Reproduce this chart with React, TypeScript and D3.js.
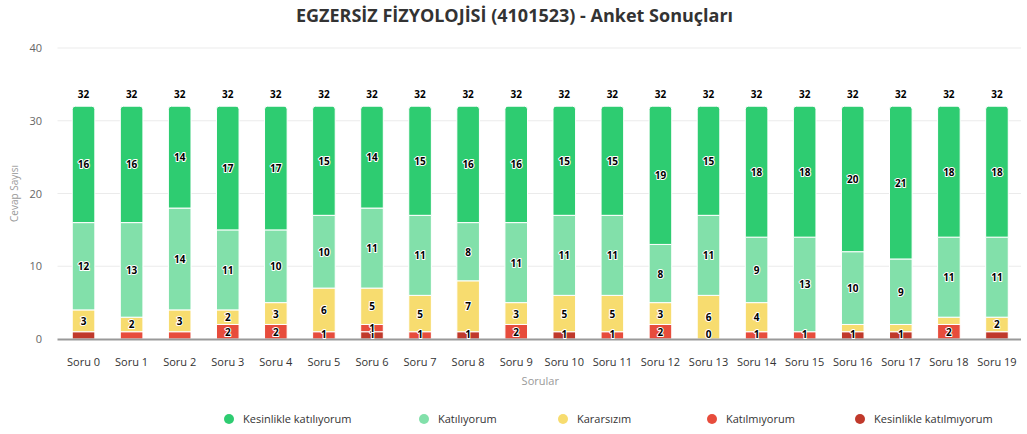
import React from "react";
import * as d3 from "d3";

const categories = ["Soru 0","Soru 1","Soru 2","Soru 3","Soru 4","Soru 5","Soru 6","Soru 7","Soru 8","Soru 9","Soru 10","Soru 11","Soru 12","Soru 13","Soru 14","Soru 15","Soru 16","Soru 17","Soru 18","Soru 19"];
const kesinlikleKatiliyorum = [16,16,14,17,17,15,14,15,16,16,15,15,19,15,18,18,20,21,18,18];
const katiliyorum = [12,13,14,11,10,10,11,11,8,11,11,11,8,11,9,13,10,9,11,11];
const kararsizim = [3,2,3,2,3,6,5,5,7,3,5,5,3,6,4,0,1,1,1,2];
const katilmiyorum = [0,1,1,2,2,1,1,1,0,2,0,1,2,0,1,1,0,0,2,0];
const kesinlikleKatilmiyorum = [1,0,0,0,0,0,1,0,1,0,1,0,0,0,0,0,1,1,0,1];
const yTicks = [0, 10, 20, 30, 40];
// labels hidden in the reference because of overlap: [seriesKey, categoryIndex]
const hiddenLabels: [string, number][] = [["kkm",0],["km",1],["km",2],["kkm",19],["kr",16],["kr",17],["kr",18]];
const zeroLabels: [string, number][] = [["km",13]];

const seriesDefs = [
  { key: "kkm", name: "Kesinlikle katılmıyorum", values: kesinlikleKatilmiyorum, color: "#c0392b" },
  { key: "km", name: "Katılmıyorum", values: katilmiyorum, color: "#e74c3c" },
  { key: "kr", name: "Kararsızım", values: kararsizim, color: "#f7dc6f" },
  { key: "k", name: "Katılıyorum", values: katiliyorum, color: "#82e0aa" },
  { key: "kk", name: "Kesinlikle katılıyorum", values: kesinlikleKatiliyorum, color: "#2ecc71" },
];
const legendOrder = ["kk", "k", "kr", "km", "kkm"];

const W = 1027, H = 434;
const font = "'Open Sans', 'Noto Sans', sans-serif";

export default function App() {
  const margin = { left: 59.5, right: 6, top: 48, bottom: 95 };
  const x = d3.scaleBand<string>().domain(categories).range([margin.left, W - margin.right]).paddingInner(0.53).paddingOuter(0.265);
  const y = d3.scaleLinear().domain([0, 40]).range([H - margin.bottom, margin.top]);
  const rows = categories.map((c, i) => {
    const r: any = { cat: c };
    seriesDefs.forEach(s => (r[s.key] = s.values[i]));
    return r;
  });
  const stack = d3.stack<any>().keys(seriesDefs.map(s => s.key));
  const layers = stack(rows);
  const bw = x.bandwidth();
  const isHidden = (k: string, i: number) => hiddenLabels.some(h => h[0] === k && h[1] === i);
  const isZeroShown = (k: string, i: number) => zeroLabels.some(h => h[0] === k && h[1] === i);
  const totals = categories.map((_, i) => d3.sum(seriesDefs, s => s.values[i]));
  const legendX: Record<string, number> = { kk: 229, k: 424, kr: 563, km: 712, kkm: 860 };

  const roundTop = (x0: number, y0: number, w: number, h: number, r: number) => {
    const p = d3.path();
    p.moveTo(x0, y0 + h);
    p.lineTo(x0, y0 + r);
    p.arcTo(x0, y0, x0 + r, y0, r);
    p.lineTo(x0 + w - r, y0);
    p.arcTo(x0 + w, y0, x0 + w, y0 + r, r);
    p.lineTo(x0 + w, y0 + h);
    p.closePath();
    return p.toString();
  };

  return (
    <svg width={W} height={H} style={{ position: "absolute", left: 0, top: 0, fontFamily: font }}>
      <rect width={W} height={H} fill="#fff" />
      <text x={W / 2 + 1} y={22} textAnchor="middle" fontSize={18} fontWeight="bold" fill="#333">
        EGZERSİZ FİZYOLOJİSİ (4101523) - Anket Sonuçları
      </text>
      {yTicks.map(t => (
        <g key={t}>
          {t > 0 && <line x1={margin.left - 2} x2={W - margin.right} y1={y(t)} y2={y(t)} stroke="#ebebeb" />}
          <text x={42} y={y(t) + 4} textAnchor="end" fontSize={11} fill="#666">{t}</text>
        </g>
      ))}
      <text transform={`translate(18,${(y(0) + y(40)) / 2}) rotate(-90)`} textAnchor="middle" fontSize={10} fill="#999">Cevap Sayısı</text>
      {layers.map((layer, li) => {
        const s = seriesDefs[li];
        return (
          <g key={s.key}>
            {layer.map((d, i) => {
              const v = d[1] - d[0];
              if (v <= 0) return null;
              const x0 = x(categories[i])!;
              const yTop = y(d[1]);
              const h = y(d[0]) - y(d[1]);
              const isTop = li === seriesDefs.length - 1;
              return isTop ? (
                <path key={i} d={roundTop(x0, yTop, bw, h, 3)} fill={s.color} stroke="#fff" strokeWidth={1} />
              ) : (
                <rect key={i} x={x0} y={yTop} width={bw} height={h} fill={s.color} stroke="#fff" strokeWidth={1} />
              );
            })}
          </g>
        );
      })}
      <line x1={margin.left - 2} x2={W - margin.right} y1={y(0) + 0.5} y2={y(0) + 0.5} stroke="#999" strokeWidth={2} />
      {layers.map((layer, li) => {
        const s = seriesDefs[li];
        return (
          <g key={s.key + "l"}>
            {layer.map((d, i) => {
              const v = d[1] - d[0];
              if (isHidden(s.key, i)) return null;
              if (v <= 0 && !isZeroShown(s.key, i)) return null;
              const cx = x(categories[i])! + bw / 2;
              const cy = (y(d[0]) + y(d[1])) / 2;
              return (
                <text key={i} x={cx} y={Math.min(cy + 4, y(0) - 1)} textAnchor="middle" fontSize={10} fontWeight="bold" fill="#000" stroke="#fff" strokeWidth={2} strokeLinejoin="round" style={{ paintOrder: "stroke" }}>
                  {v}
                </text>
              );
            })}
          </g>
        );
      })}
      {totals.map((t, i) => (
        <text key={i} x={x(categories[i])! + bw / 2} y={y(t) - 8} textAnchor="middle" fontSize={10} fontWeight="bold" fill="#000">{t}</text>
      ))}
      {categories.map(c => (
        <text key={c} x={x(c)! + bw / 2} y={366} textAnchor="middle" fontSize={11} fill="#333">{c}</text>
      ))}
      <text x={(margin.left + W - margin.right) / 2} y={385} textAnchor="middle" fontSize={11} fill="#999">Sorular</text>
      {legendOrder.map(k => {
        const s = seriesDefs.find(d => d.key === k)!;
        const lx = legendX[k];
        return (
          <g key={k}>
            <circle cx={lx} cy={419} r={5} fill={s.color} />
            <text x={lx + 14} y={423} fontSize={11} fill="#333">{s.name}</text>
          </g>
        );
      })}
    </svg>
  );
}
